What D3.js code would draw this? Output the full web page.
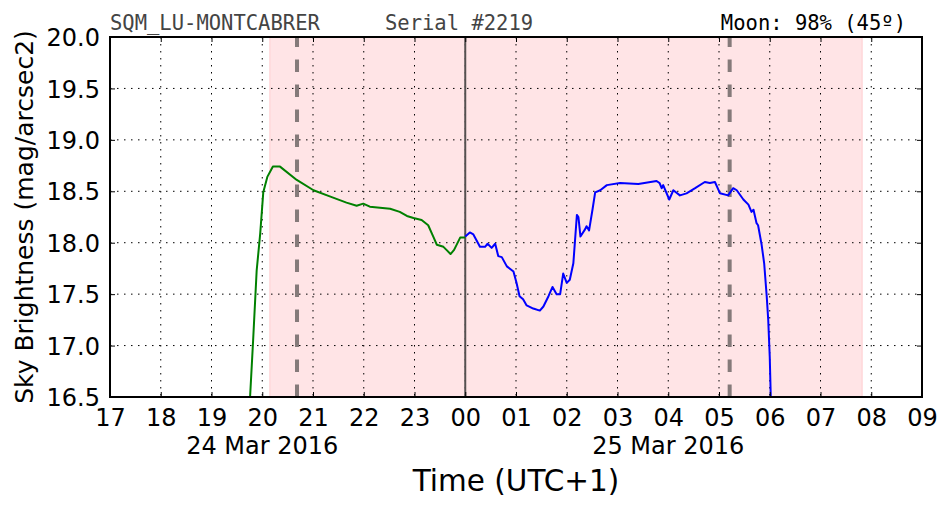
<!DOCTYPE html>
<html><head><meta charset="utf-8">
<script src="https://cdn.jsdelivr.net/npm/d3@7"></script>
<style>body{margin:0;background:#fff} svg{display:block}</style>
</head><body><svg id="c" width="952" height="512"></svg>
<script>
// hours since 24 Mar 2016 00:00 (UTC+1)
const greenTimes = [19.76,19.82,19.89,19.96,20.02,20.10,20.21,20.35,20.68,21.01,21.33,21.66,21.86,21.99,22.12,22.52,22.71,22.85,22.98,23.14,23.27,23.37,23.44,23.57,23.63,23.71,23.78,23.90,24.00];
const greenValues = [16.50,17.05,17.73,18.09,18.49,18.64,18.74,18.74,18.61,18.51,18.45,18.39,18.36,18.38,18.35,18.33,18.30,18.26,18.24,18.22,18.17,18.06,17.98,17.96,17.93,17.89,17.93,18.05,18.05];
const blueTimes = [24.00,24.09,24.16,24.29,24.39,24.44,24.52,24.59,24.65,24.72,24.82,24.95,25.01,25.07,25.14,25.21,25.34,25.47,25.54,25.64,25.72,25.80,25.87,25.93,26.00,26.06,26.13,26.20,26.23,26.27,26.36,26.39,26.44,26.51,26.56,26.66,26.79,27.05,27.41,27.77,27.83,27.87,27.90,28.02,28.10,28.23,28.36,28.53,28.72,28.82,28.92,29.02,29.18,29.28,29.35,29.48,29.58,29.64,29.68,29.74,29.77,29.84,29.89,29.94,29.97,30.00,30.02];
const blueValues = [18.06,18.10,18.08,17.96,17.96,17.99,17.95,17.99,17.87,17.86,17.77,17.72,17.61,17.48,17.45,17.39,17.36,17.34,17.38,17.48,17.57,17.50,17.50,17.70,17.61,17.64,17.80,18.27,18.25,18.06,18.13,18.16,18.12,18.33,18.49,18.51,18.56,18.58,18.57,18.60,18.58,18.53,18.56,18.42,18.51,18.46,18.48,18.53,18.59,18.58,18.59,18.48,18.46,18.53,18.51,18.42,18.37,18.30,18.32,18.19,18.17,17.98,17.80,17.48,17.25,16.89,16.50];
const twilight = [20.15, 31.82];
const moonLines = [20.685, 29.21];
const midnight = 24;
const xDomain = [17, 33];
const yDomain = [16.5, 20.0];
const xTickLabels = ["17","18","19","20","21","22","23","00","01","02","03","04","05","06","07","08","09"];
const yTicks = [16.5,17.0,17.5,18.0,18.5,19.0,19.5,20.0];
const dateLabels = ["24 Mar 2016","25 Mar 2016"];
const dateLabelHours = [20, 28];
const titleLeft = "SQM_LU-MONTCABRER";
const titleMid = "Serial #2219";
const titleRight = "Moon: 98% (45º)";
const xLabel = "Time (UTC+1)";
const yLabel = "Sky Brightness (mag/arcsec2)";

const base = Date.UTC(2016,2,24);
const toDate = h => new Date(base + h*3600e3);

const m = {l:110, t:37, r:30, b:115};
const W = 952, H = 512;
const w = W - m.l - m.r, h = H - m.t - m.b;
const svg = d3.select("#c");
const g = svg.append("g").attr("transform",`translate(${m.l},${m.t})`);
const x = d3.scaleUtc().domain(xDomain.map(toDate)).range([0,w]);
const y = d3.scaleLinear().domain(yDomain).range([h,0]);
const font = "'DejaVu Sans', sans-serif";

g.append("rect").attr("x",x(toDate(twilight[0]))).attr("y",0)
 .attr("width",x(toDate(twilight[1]))-x(toDate(twilight[0]))).attr("height",h)
 .attr("fill","rgb(255,228,230)").attr("stroke","rgb(255,205,208)").attr("stroke-width",1);

const hourTicks = d3.utcHour.every(1).range(toDate(xDomain[0]), toDate(xDomain[1]+0.01));
// grid
g.append("g").selectAll("line").data(hourTicks).join("line")
 .attr("x1",d=>x(d)).attr("x2",d=>x(d)).attr("y1",0).attr("y2",h)
 .attr("stroke","#000").attr("stroke-width",1).attr("stroke-dasharray","1.5,5.5");
g.append("g").selectAll("line").data(yTicks).join("line")
 .attr("x1",0).attr("x2",w).attr("y1",d=>y(d)).attr("y2",d=>y(d))
 .attr("stroke","#000").attr("stroke-width",1).attr("stroke-dasharray","1.5,5.5");

// moon lines (drawn from bottom)
g.append("g").selectAll("line").data(moonLines).join("line")
 .attr("x1",d=>x(toDate(d))).attr("x2",d=>x(toDate(d))).attr("y1",h).attr("y2",0)
 .attr("stroke","#857a7a").attr("stroke-width",4).attr("stroke-dasharray","12.5,12.5");
g.append("line").attr("x1",x(toDate(midnight))).attr("x2",x(toDate(midnight))).attr("y1",0).attr("y2",h)
 .attr("stroke","#555050").attr("stroke-width",2);

const line = d3.line().x(d=>x(toDate(d[0]))).y(d=>y(d[1]));
g.append("path").datum(d3.zip(greenTimes,greenValues)).attr("d",line)
 .attr("fill","none").attr("stroke","#008000").attr("stroke-width",2).attr("stroke-linejoin","round");
g.append("path").datum(d3.zip(blueTimes,blueValues)).attr("d",line)
 .attr("fill","none").attr("stroke","#0000ff").attr("stroke-width",2).attr("stroke-linejoin","round");

// axes
const xAx = g.append("g").attr("transform",`translate(0,${h})`)
 .call(d3.axisBottom(x).tickValues(hourTicks).tickFormat((d,i)=>xTickLabels[i]).tickSizeInner(-5).tickSizeOuter(0).tickPadding(12));
const xAxTop = g.append("g").call(d3.axisTop(x).tickValues(hourTicks).tickFormat("").tickSizeInner(-5).tickSizeOuter(0));
const yAx = g.append("g").call(d3.axisLeft(y).tickValues(yTicks).tickFormat(d3.format(".1f")).tickSizeInner(-5).tickSizeOuter(0).tickPadding(10));
const yAxR = g.append("g").attr("transform",`translate(${w},0)`).call(d3.axisRight(y).tickValues(yTicks).tickFormat("").tickSizeInner(-5).tickSizeOuter(0));
[xAx,xAxTop,yAx,yAxR].forEach(a=>{a.select(".domain").remove();a.selectAll("line").attr("stroke","#000").attr("stroke-width",1);
  a.selectAll("text").attr("font-family",font).attr("font-size",24).attr("fill","#000");});
xAx.selectAll("text").attr("dy",null).attr("y",null).attr("transform","translate(0,29)");
yAx.selectAll("text").attr("dy","0.36em");

g.append("rect").attr("x",0).attr("y",0).attr("width",w).attr("height",h)
 .attr("fill","none").attr("stroke","#000").attr("stroke-width",2);

// date labels
g.append("g").selectAll("text").data(dateLabels).join("text")
 .attr("x",(d,i)=>x(toDate(dateLabelHours[i]))).attr("y",h+57)
 .attr("text-anchor","middle").attr("font-family",font).attr("font-size",24).text(d=>d);

svg.append("text").attr("x",m.l+w/2).attr("y",491).attr("text-anchor","middle")
 .attr("font-family",font).attr("font-size",29.5).text(xLabel);
svg.append("text").attr("transform",`translate(33,${m.t+h/2}) rotate(-90)`).attr("text-anchor","middle")
 .attr("font-family",font).attr("font-size",25).text(yLabel);

const mono = "'DejaVu Sans Mono', monospace";
svg.append("text").attr("x",110).attr("y",30).attr("font-family",mono).attr("font-size",20.5).attr("fill","#444").text(titleLeft);
svg.append("text").attr("x",385).attr("y",30).attr("font-family",mono).attr("font-size",20.5).attr("fill","#444").text(titleMid);
svg.append("text").attr("x",906).attr("y",30).attr("text-anchor","end").attr("font-family",mono).attr("font-size",20.5).attr("fill","#000").text(titleRight);
</script></body></html>
